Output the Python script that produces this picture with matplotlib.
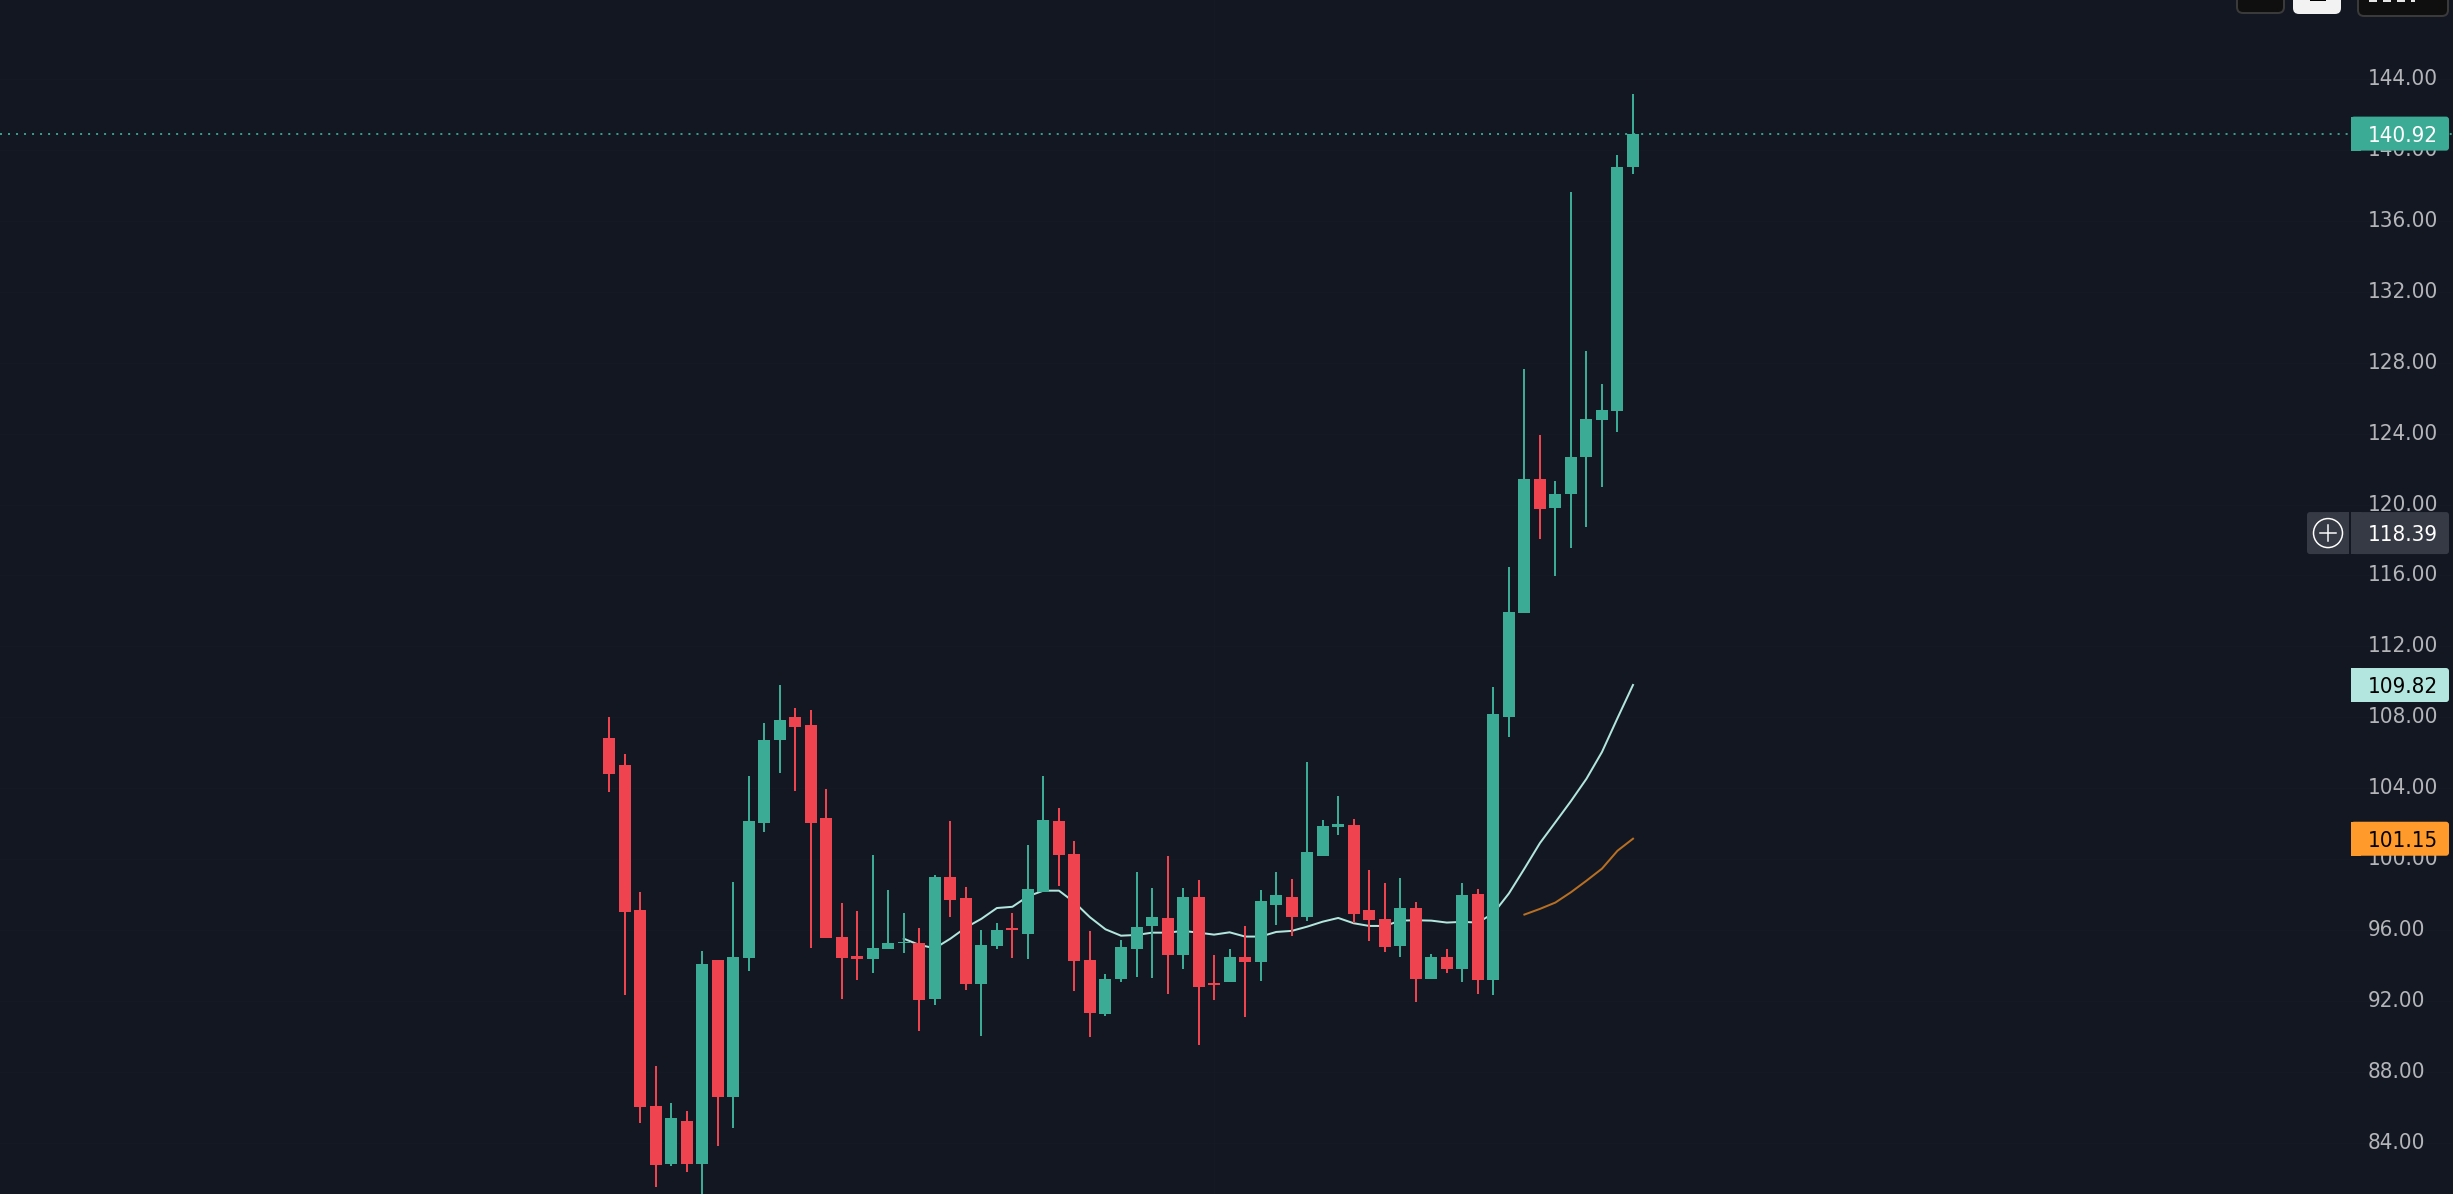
import matplotlib
matplotlib.use('Agg')
import matplotlib.pyplot as plt
from matplotlib.patches import Circle, FancyBboxPatch, Rectangle

BG = '#121722'
GREEN = '#3BAB95'
RED = '#EF434F'
FONT = dict(family='DejaVu Sans', stretch='condensed', fontsize=16)

opens = [106.82, 105.32, 97.14, 86.08, 82.79, 85.22, 82.79, 94.30, 86.59, 94.42,
         102.03, 106.73, 108.02, 107.57, 102.32, 95.61, 94.54, 94.36, 94.93, 95.24,
         95.26, 92.11, 99.00, 97.80, 92.95, 95.10, 96.12, 95.77, 98.12, 102.15,
         100.29, 94.31, 91.26, 93.24, 94.93, 96.23, 96.68, 94.59, 97.86, 93.01,
         93.07, 94.48, 94.20, 97.41, 97.86, 96.74, 100.18, 101.81, 101.92, 97.13,
         96.62, 95.10, 97.24, 93.24, 94.48, 93.80, 98.03, 93.18, 108.02, 113.88,
         121.44, 119.82, 120.57, 122.70, 124.78, 125.29, 139.03]
closes = [104.81, 97.02, 86.02, 82.75, 85.40, 82.79, 94.09, 86.59, 94.48, 102.15,
          106.73, 107.84, 107.45, 102.03, 95.55, 94.42, 94.36, 94.99, 95.26, 95.32,
          92.05, 99.00, 97.69, 92.95, 95.16, 96.00, 96.02, 98.31, 102.21, 100.23,
          94.26, 91.32, 93.24, 95.04, 96.17, 96.74, 94.59, 97.86, 92.79, 92.92,
          94.48, 94.20, 97.64, 97.98, 96.74, 100.40, 101.87, 101.98, 96.90, 96.57,
          95.04, 97.24, 93.24, 94.48, 93.80, 97.98, 93.18, 108.19, 113.92, 121.44,
          119.75, 120.57, 122.70, 124.82, 125.32, 139.03, 140.92]
highs = [108.02, 105.92, 98.13, 88.33, 86.24, 85.79, 94.81, 94.30, 98.70, 104.69,
         107.69, 109.82, 108.53, 108.41, 103.95, 97.53, 97.08, 100.23, 98.25, 96.96,
         96.12, 99.09, 102.15, 98.43, 96.00, 96.39, 96.96, 100.80, 104.69, 102.87,
         101.01, 95.95, 93.52, 95.44, 99.27, 98.37, 100.18, 98.37, 98.82, 94.59,
         94.93, 96.23, 98.26, 99.27, 98.88, 105.48, 102.21, 103.56, 102.26, 99.39,
         98.65, 98.93, 97.58, 94.65, 94.93, 98.65, 98.32, 109.71, 116.47, 127.62,
         123.92, 121.33, 137.62, 128.67, 126.80, 139.71, 143.16]
lows = [103.79, 92.34, 85.12, 81.50, 82.70, 82.34, 80.80, 83.81, 84.83, 93.69,
        101.52, 104.85, 103.85, 94.99, 95.55, 92.11, 93.18, 93.58, 94.93, 94.71,
        90.31, 91.77, 96.73, 92.62, 90.01, 94.93, 94.42, 94.36, 98.12, 98.49,
        92.56, 89.97, 91.15, 93.07, 93.35, 93.30, 92.39, 93.80, 89.52, 92.06,
        93.07, 91.10, 93.13, 96.28, 95.66, 96.51, 100.18, 101.36, 96.40, 95.38,
        94.76, 94.48, 91.94, 93.24, 93.58, 93.07, 92.39, 92.34, 106.87, 113.88,
        118.06, 115.97, 117.55, 118.74, 120.97, 124.10, 138.63]

# moving averages, they only start part way through the bars
fast_start = 20
fast_ma = [95.51, 95.16, 94.97, 95.51, 96.14, 96.63, 97.24, 97.31, 97.90, 98.22,
           98.22, 97.56, 96.72, 96.04, 95.68, 95.72, 95.85, 95.85, 95.95, 95.85,
           95.74, 95.87, 95.63, 95.63, 95.89, 95.95, 96.19, 96.47, 96.68, 96.38,
           96.23, 96.23, 96.53, 96.55, 96.53, 96.42, 96.46, 96.42, 96.94, 98.06,
           99.46, 100.90, 102.08, 103.27, 104.53, 106.04, 107.95, 109.82]
slow_start = 60
slow_ma = [96.87, 97.19, 97.55, 98.13, 98.78, 99.46, 100.47, 101.15]

price_ticks = [84, 88, 92, 96, 100, 104, 108, 112, 116, 120, 124, 128, 132, 136, 140, 144]
last_price = 140.92
crosshair_price = 118.39

PX = 1 / 100 * 72  # one pixel in points at dpi 100

fig = plt.figure(figsize=(24.53, 11.94), dpi=100, facecolor=BG)
ax = fig.add_axes([0, 0, 1, 1], facecolor=BG)
ax.set_xlim(1 - 609 / 15.515, 1 + (2453 - 609) / 15.515)
ax.set_ylim(81.11, 148.456)
for s in ax.spines.values():
    s.set_visible(False)

ax.set_yticks(price_ticks)
ax.set_yticklabels([f'{t:.2f}' for t in price_ticks], color='#B4B5B9', va='center', **FONT)
ax.yaxis.tick_right()
ax.tick_params(axis='y', length=0, pad=-85 * PX)
ax.set_xticks([40])
ax.set_xticklabels([])
ax.tick_params(axis='x', length=0)
ax.grid(True, color='#141924', linewidth=1 * PX, zorder=0)
ax.set_axisbelow(True)

bars = list(range(1, len(opens) + 1))
colors = [GREEN if c >= o else RED for o, c in zip(opens, closes)]

ax.axhline(last_price, color='#45C4AB', linewidth=1.1, linestyle=(0, (1.31, 3.93)), zorder=1)
ax.plot(range(fast_start, fast_start + len(fast_ma)), fast_ma, color='#B2E5DC',
        linewidth=2 * PX, zorder=2)
ax.plot(range(slow_start, slow_start + len(slow_ma)), slow_ma, color='#B86F22',
        linewidth=2 * PX, zorder=2)
ax.vlines(bars, lows, highs, colors=colors, linewidth=2 * PX, zorder=3)
ax.bar(bars, [c - o for o, c in zip(opens, closes)], bottom=opens, width=12 / 15.515,
       color=colors, linewidth=0, zorder=4)

# overlay in pixels for the price tags and the cut off buttons
ov = fig.add_axes([0, 0, 1, 1])
ov.set_xlim(0, 2453)
ov.set_ylim(1194, 0)
ov.axis('off')


def rounded(x0, y0, x1, y1, face, edge='none', lw=0, r=3):
    ov.add_patch(FancyBboxPatch((x0, y0), x1 - x0, y1 - y0, boxstyle=f'round,pad=0,rounding_size={r}',
                                facecolor=face, edgecolor=edge, linewidth=lw * PX))


def price_y(price):
    return 79 + (144 - price) * 17.73


def tag(price, face, fg):
    y = price_y(price)
    rounded(2351, y - 17, 2449, y + 17, face)
    ov.add_patch(Rectangle((2351, y - 17), 10, 34, facecolor=face, linewidth=0))
    ov.text(2368, y, f'{price:.2f}', color=fg, va='center_baseline', ha='left', **FONT)


tag(last_price, GREEN, 'white')
tag(fast_ma[-1], '#B2E6DE', 'black')
tag(slow_ma[-1], '#FF9A2B', 'black')

y = price_y(crosshair_price)
rounded(2351, y - 21, 2449, y + 21, '#363A45')
ov.add_patch(Rectangle((2351, y - 21), 10, 42, facecolor='#363A45', linewidth=0))
ov.text(2368, y, f'{crosshair_price:.2f}', color='white', va='center_baseline', ha='left', **FONT)
rounded(2307, y - 21, 2349, y + 21, '#363A45')
ov.add_patch(Rectangle((2339, y - 21), 10, 42, facecolor='#363A45', linewidth=0))
ov.add_patch(Circle((2328, y), 14.5, facecolor='none', edgecolor='white', linewidth=1.5 * PX))
ov.plot([2320, 2336], [y, y], color='white', linewidth=1.5 * PX)
ov.plot([2328, 2328], [y - 8, y + 8], color='white', linewidth=1.5 * PX)

# top right buttons, cropped by the screenshot edge
rounded(2237, -20, 2284, 13, '#0F0F0F', '#3A3A3A', 2, r=6)
rounded(2293, -20, 2341, 14, '#F2F2F2', r=6)
ov.add_patch(Rectangle((2310, -5), 16, 6, facecolor='black', linewidth=0))
rounded(2358, -20, 2448, 16, '#0F0F0F', '#3A3A3A', 2, r=6)
# only the bottoms of the button's glyphs show, too little to read as text
for gx, gw in [(2369, 8), (2383, 8), (2397, 8), (2411, 4)]:
    ov.add_patch(Rectangle((gx, -2), gw, 4, facecolor='#E6E6E6', linewidth=0))

fig.savefig('out.png', dpi=100, facecolor=BG)
